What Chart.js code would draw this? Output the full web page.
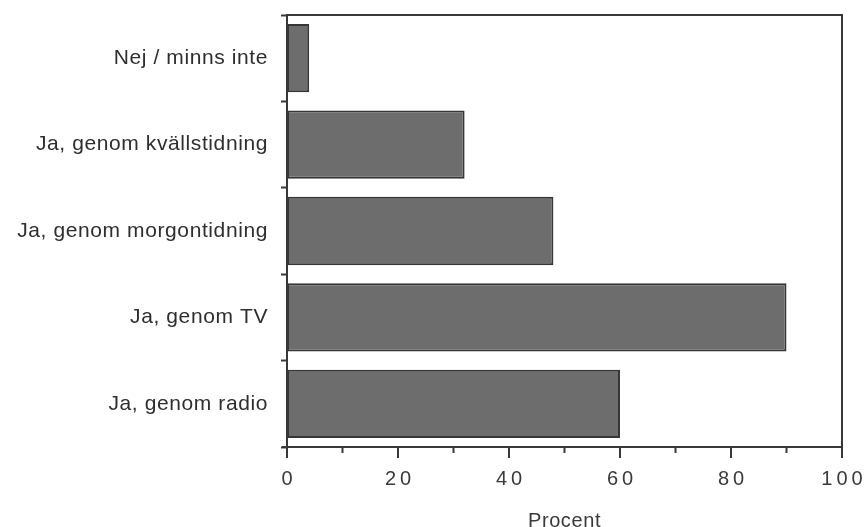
<!DOCTYPE html>
<html>
<head>
<meta charset="utf-8">
<script src="https://cdn.jsdelivr.net/npm/chart.js@4.4.0/dist/chart.umd.min.js"></script>
<style>
    html, body { margin: 0; padding: 0; background: #fff; }
    #wrap { width: 864px; height: 527px; }
</style>
</head>
<body>
<div id="wrap"><canvas id="chart"></canvas></div>
<script>
    "use strict";

    // Data
    var categories = ["Nej / minns inte", "Ja, genom kvällstidning", "Ja, genom morgontidning", "Ja, genom TV", "Ja, genom radio"];
    var values = [4, 32, 48, 90, 60];
    var xMin = 0, xMax = 100, xStep = 10, xLabelStep = 20;
    var xTitle = "Procent";

    var ink = "#383838";
    var font = "'Liberation Sans', Arial, Helvetica, sans-serif";

    // Frame, x ticks and x labels
    var framePlugin = {
        id: "frame",
        beforeDraw: function (chart) {
            chart.ctx.letterSpacing = "0.6px";
        },
        afterDraw: function (chart) {
            var ctx = chart.ctx, a = chart.chartArea, sx = chart.scales.x;
            ctx.save();
            ctx.strokeStyle = ink;
            ctx.lineWidth = 2;
            ctx.strokeRect(a.left, a.top, a.right - a.left, a.bottom - a.top);
            // bottom axis pokes out a bit left
            ctx.beginPath();
            ctx.moveTo(a.left - 5, a.bottom);
            ctx.lineTo(a.left, a.bottom);
            ctx.stroke();
            ctx.font = "20px " + font;
            ctx.fillStyle = "#3a3a3a";
            ctx.textAlign = "center";
            ctx.textBaseline = "middle";
            ctx.letterSpacing = "4px";
            sx.ticks.forEach(function (t) {
                var px = sx.getPixelForValue(t.value);
                var major = t.value % xLabelStep === 0;
                ctx.beginPath();
                ctx.moveTo(px, a.bottom);
                ctx.lineTo(px, a.bottom + (major ? 11 : 6));
                ctx.stroke();
                if (major) {
                    ctx.fillText(String(t.value), px + 2, a.bottom + 32);
                }
            });
            ctx.restore();
        }
    };

    var ctx1 = document.getElementById("chart").getContext("2d");
    var myChart1 = new Chart(ctx1, {
        type: "bar",
        data: {
            labels: categories,
            datasets: [{
                data: values,
                backgroundColor: "#6d6d6d",
                borderColor: "#363636",
                borderWidth: 2,
                borderSkipped: false,
                barPercentage: 0.79,
                categoryPercentage: 1
            }]
        },
        options: {
            indexAxis: "y",
            responsive: true,
            maintainAspectRatio: false,
            animation: false,
            layout: { padding: { top: 15, right: 22, left: 0, bottom: 0 } },
            plugins: {
                legend: { display: false },
                tooltip: { enabled: false }
            },
            scales: {
                x: {
                    min: xMin,
                    max: xMax,
                    ticks: { stepSize: xStep, display: false },
                    grid: { display: false },
                    border: { display: false },
                    title: {
                        display: true,
                        text: xTitle,
                        color: "#3a3a3a",
                        font: { family: font, size: 20 },
                        padding: { top: 0, bottom: -6 }
                    },
                    afterFit: function (scale) {
                        scale.height = 80;
                        scale.paddingLeft = 0;
                        scale.paddingRight = 0;
                    }
                },
                y: {
                    ticks: {
                        color: "#2e2e2e",
                        font: { family: font, size: 21 },
                        padding: 13
                    },
                    grid: {
                        offset: true,
                        drawOnChartArea: false,
                        drawTicks: true,
                        tickLength: 6,
                        tickWidth: 2,
                        color: ink
                    },
                    border: { display: false },
                    afterFit: function (scale) {
                        scale.width = 287;
                        scale.paddingTop = 0;
                        scale.paddingBottom = 0;
                    }
                }
            }
        },
        plugins: [framePlugin]
    });
</script>
</body>
</html>
